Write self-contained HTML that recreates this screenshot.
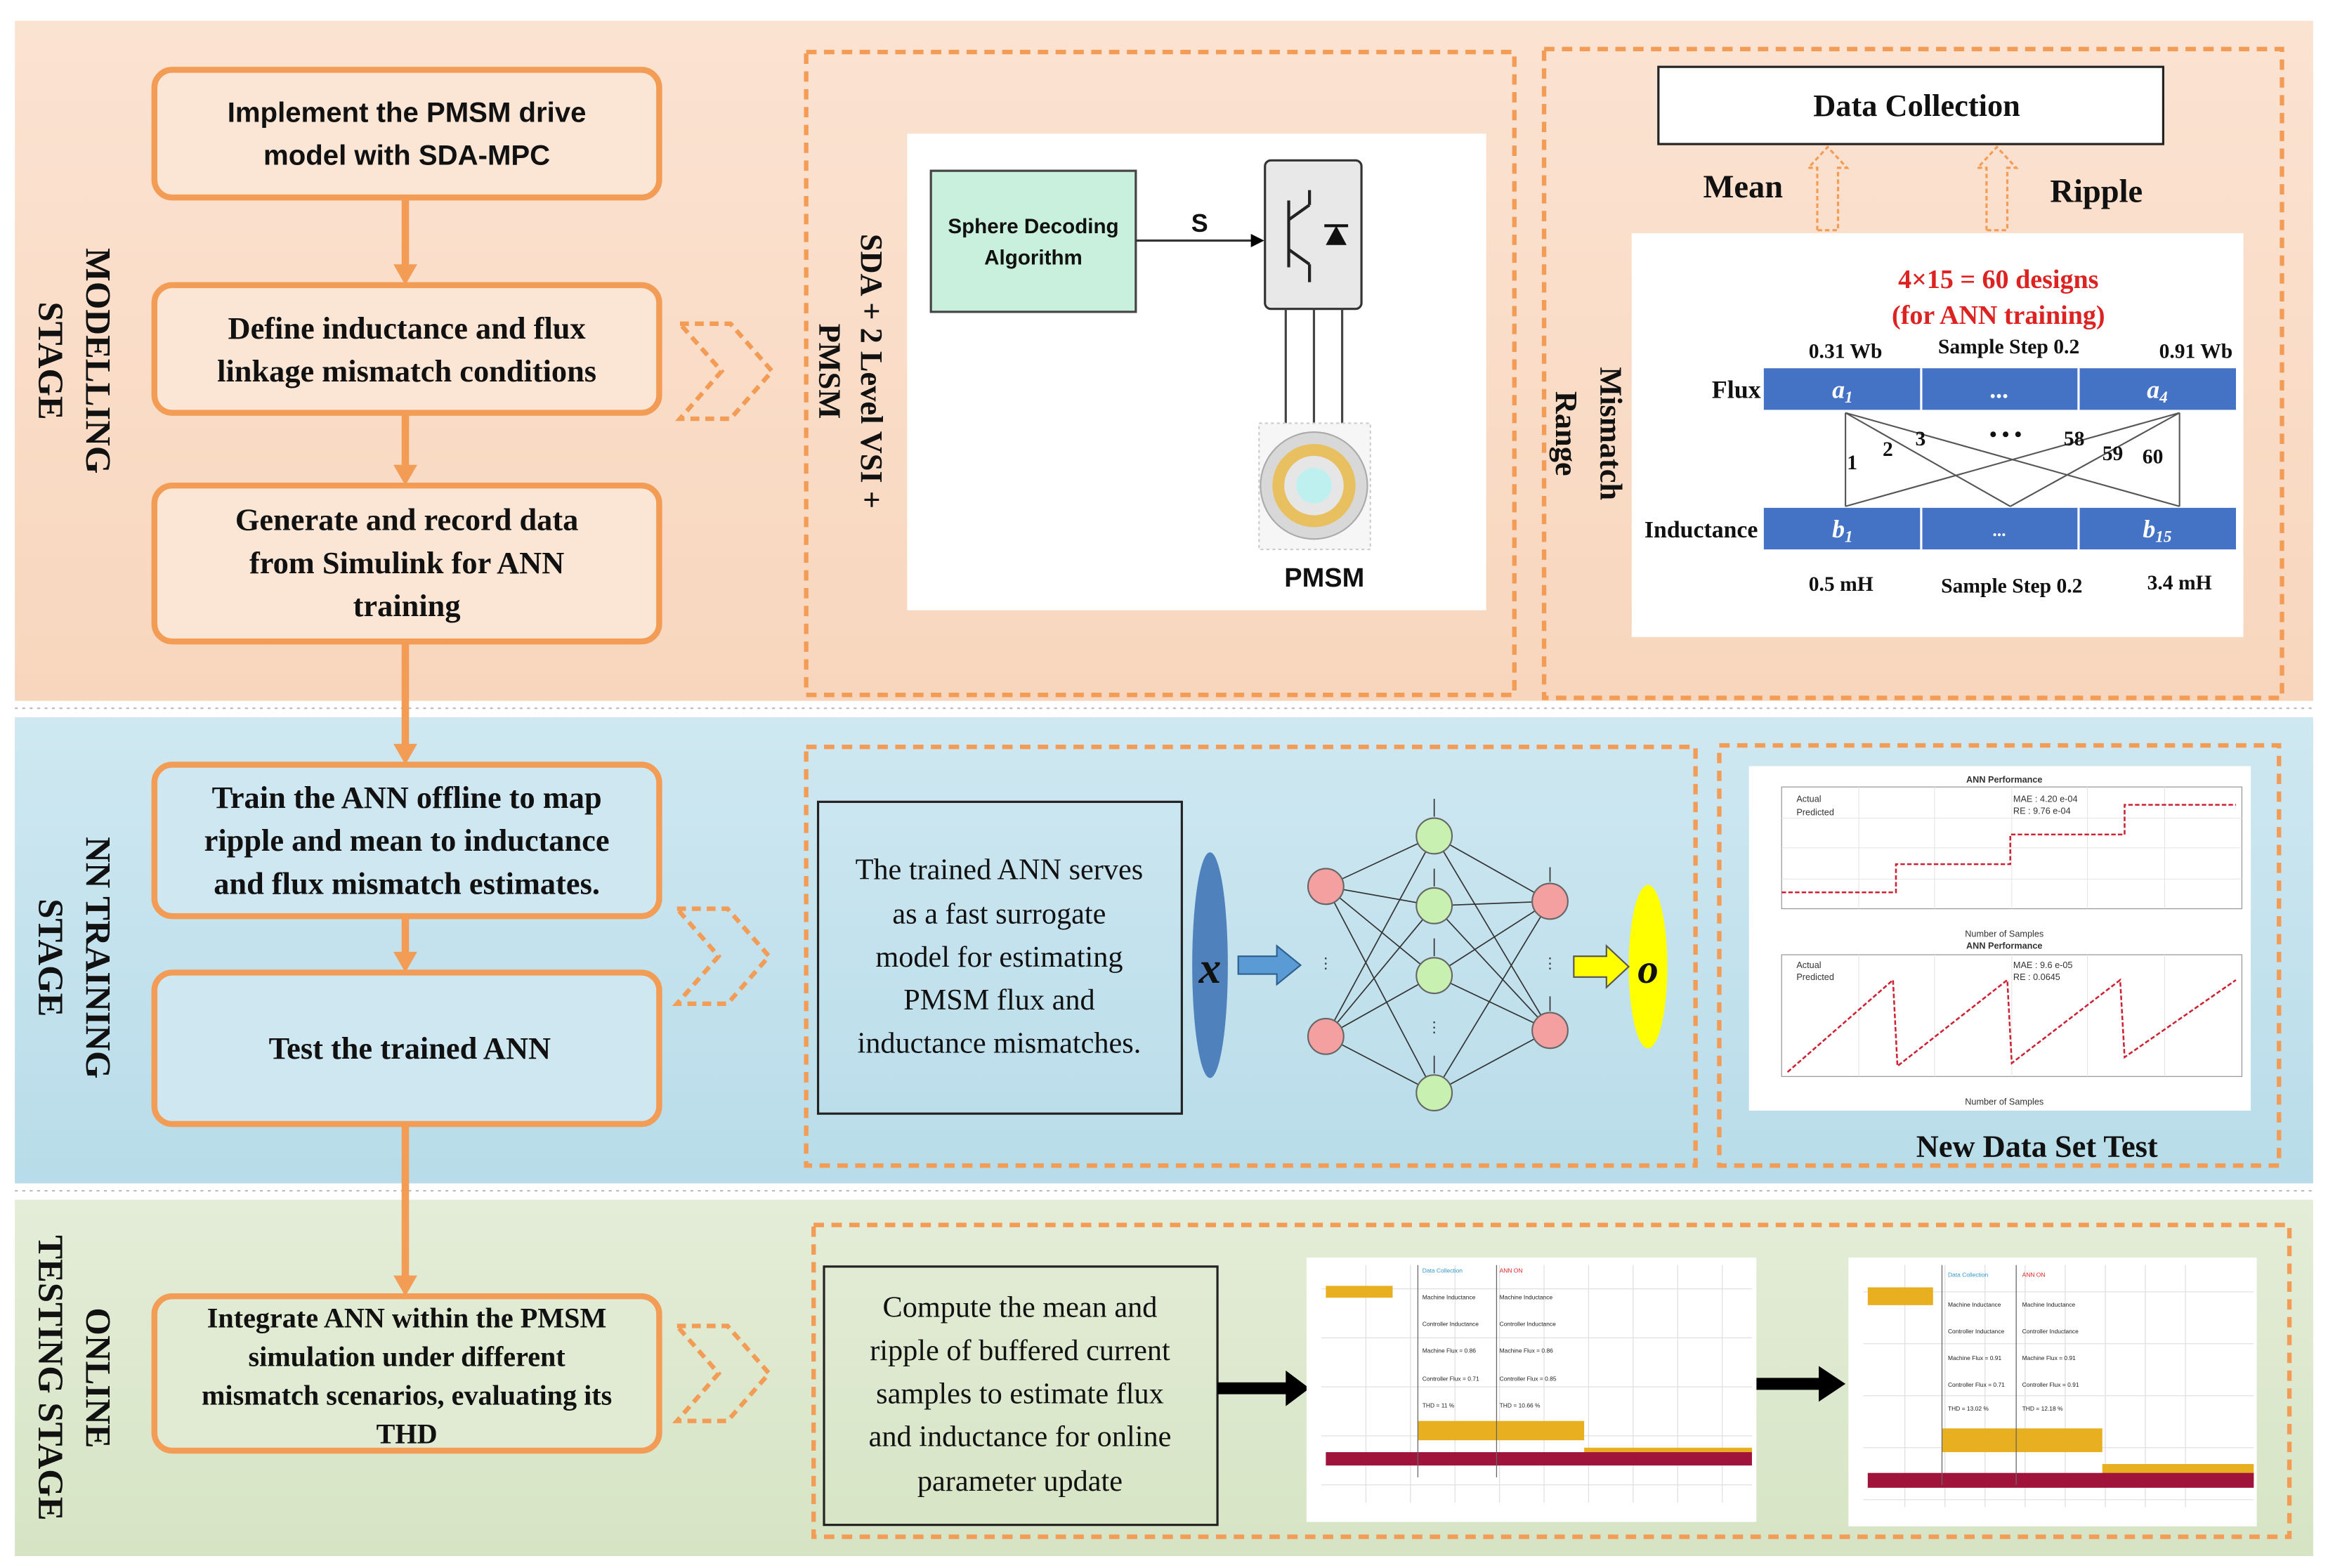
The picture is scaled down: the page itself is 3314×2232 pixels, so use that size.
<!DOCTYPE html>
<html><head><meta charset="utf-8"><style>
html,body{margin:0;padding:0;background:#fff;}
svg{display:block;}
</style></head><body>
<svg width="3314" height="2232" viewBox="0 0 1568 1056" xmlns="http://www.w3.org/2000/svg" font-family="Liberation Serif, serif">
<defs>
<linearGradient id="gp" x1="0" y1="0" x2="0" y2="1"><stop offset="0" stop-color="#fbe3d2"/><stop offset="1" stop-color="#f8d6bd"/></linearGradient>
<linearGradient id="gb" x1="0" y1="0" x2="0" y2="1"><stop offset="0" stop-color="#cfe8f1"/><stop offset="1" stop-color="#b8dce9"/></linearGradient>
<linearGradient id="gg" x1="0" y1="0" x2="0" y2="1"><stop offset="0" stop-color="#e4edd8"/><stop offset="1" stop-color="#d6e4c4"/></linearGradient>
<marker id="ah" markerWidth="6" markerHeight="6" refX="5" refY="3" orient="auto"><path d="M0,0 L6,3 L0,6z" fill="#000"/></marker>
</defs>
<rect width="1568" height="1056" fill="#fff"/>
<!-- bands -->
<rect x="10" y="14" width="1548" height="458" fill="url(#gp)"/>
<rect x="10" y="483" width="1548" height="314" fill="url(#gb)"/>
<rect x="10" y="808" width="1548" height="240" fill="url(#gg)"/>
<g stroke="#bbb" stroke-width="1"><line x1="10" y1="477" x2="1558" y2="477" stroke-dasharray="2 3"/><line x1="10" y1="802" x2="1558" y2="802" stroke-dasharray="2 3"/></g>

<!-- stage labels -->
<g font-weight="bold" font-size="24" fill="#111">
<text transform="translate(58,243) rotate(90)" text-anchor="middle">MODELLING</text>
<text transform="translate(26,243) rotate(90)" text-anchor="middle">STAGE</text>
<text transform="translate(58,645) rotate(90)" text-anchor="middle">NN TRAINING</text>
<text transform="translate(26,645) rotate(90)" text-anchor="middle">STAGE</text>
<text transform="translate(58,928) rotate(90)" text-anchor="middle">ONLINE</text>
<text transform="translate(26,928) rotate(90)" text-anchor="middle">TESTING STAGE</text>
</g>

<!-- vertical connectors -->
<g stroke="#f39c55" stroke-width="5" fill="#f39c55">
<line x1="273" y1="133" x2="273" y2="180"/><path d="M265,178 L281,178 L273,192z" stroke="none"/>
<line x1="273" y1="278" x2="273" y2="315"/><path d="M265,313 L281,313 L273,327z" stroke="none"/>
<line x1="273" y1="432" x2="273" y2="503"/><path d="M265,501 L281,501 L273,515z" stroke="none"/>
<line x1="273" y1="617" x2="273" y2="643"/><path d="M265,641 L281,641 L273,655z" stroke="none"/>
<line x1="273" y1="757" x2="273" y2="861"/><path d="M265,859 L281,859 L273,873z" stroke="none"/>
</g>

<!-- left boxes -->
<g stroke="#f39c55" stroke-width="4" fill="#fbe6d6">
<rect x="104" y="47" width="340" height="86" rx="12"/>
<rect x="104" y="192" width="340" height="86" rx="12"/>
<rect x="104" y="327" width="340" height="105" rx="12"/>
<rect x="104" y="515" width="340" height="102" rx="12" fill="#cfe7f1"/>
<rect x="104" y="655" width="340" height="102" rx="12" fill="#cfe7f1"/>
<rect x="104" y="873" width="340" height="104" rx="12" fill="#e1ebd3"/>
</g>
<g font-weight="bold" fill="#111" text-anchor="middle">
<text font-family="Liberation Sans, sans-serif" font-size="19" x="274" y="82">Implement the PMSM drive</text>
<text font-family="Liberation Sans, sans-serif" font-size="19" x="274" y="111">model with SDA-MPC</text>
<text font-size="21" x="274" y="228">Define inductance and flux</text>
<text font-size="21" x="274" y="257">linkage mismatch conditions</text>
<text font-size="21" x="274" y="357">Generate and record data</text>
<text font-size="21" x="274" y="386">from Simulink  for ANN</text>
<text font-size="21" x="274" y="415">training</text>
<text font-size="21" x="274" y="544">Train the ANN offline to map</text>
<text font-size="21" x="274" y="573">ripple and mean to inductance</text>
<text font-size="21" x="274" y="602">and flux mismatch estimates.</text>
<text font-size="21" x="276" y="713">Test the trained ANN</text>
<text font-size="19" x="274" y="894">Integrate ANN within the PMSM</text>
<text font-size="19" x="274" y="920">simulation under different</text>
<text font-size="19" x="274" y="946">mismatch scenarios, evaluating its</text>
<text font-size="19" x="274" y="972">THD</text>
</g>

<!-- chevrons -->
<g fill="none" stroke="#f39c55" stroke-width="3" stroke-dasharray="6 4">
<path d="M458,218 L492,218 L520,250 L492,282 L458,282 L486,250z"/>
<path d="M456,612 L490,612 L518,644 L490,676 L456,676 L484,644z"/>
<path d="M456,893 L490,893 L518,925 L490,957 L456,957 L484,925z"/>
</g>

<!-- dashed panels -->
<g fill="none" stroke="#f39c55" stroke-width="3" stroke-dasharray="7 5">
<rect x="543" y="35" width="477" height="433"/>
<rect x="1040" y="33" width="497" height="437"/>
<rect x="543" y="503" width="599" height="282"/>
<rect x="1158" y="502" width="377" height="283"/>
<rect x="548" y="825" width="994" height="210"/>
</g>

<!-- panel 1 -->
<g font-weight="bold" font-size="21" fill="#111">
<text transform="translate(580,250) rotate(90)" text-anchor="middle">SDA + 2 Level VSI +</text>
<text transform="translate(552,250) rotate(90)" text-anchor="middle">PMSM</text>
</g>
<rect x="611" y="90" width="390" height="321" fill="#fff"/>
<rect x="627" y="115" width="138" height="95" fill="#c8f0dc" stroke="#444" stroke-width="1.5"/>
<text x="696" y="157" font-family="Liberation Sans, sans-serif" font-size="14" font-weight="bold" text-anchor="middle" fill="#111">Sphere Decoding</text>
<text x="696" y="178" font-family="Liberation Sans, sans-serif" font-size="14" font-weight="bold" text-anchor="middle" fill="#111">Algorithm</text>
<line x1="765" y1="162" x2="850" y2="162" stroke="#333" stroke-width="1.5" marker-end="url(#ah)"/>
<text x="808" y="156" font-family="Liberation Sans, sans-serif" font-size="17" font-weight="bold" fill="#111" text-anchor="middle">S</text>
<rect x="852" y="108" width="65" height="100" rx="4" fill="#e8e8e8" stroke="#333" stroke-width="1.5"/>
<path d="M868,135 L868,180 M868,148 L882,138 M868,168 L882,178 M882,138 L882,128 M882,178 L882,190" stroke="#222" stroke-width="2" fill="none"/>
<path d="M893,165 L907,165 L900,152z" fill="#111"/><line x1="892" y1="152" x2="908" y2="152" stroke="#111" stroke-width="2"/>
<g stroke="#444" stroke-width="1.5"><line x1="866" y1="208" x2="866" y2="285"/><line x1="885" y1="208" x2="885" y2="285"/><line x1="904" y1="208" x2="904" y2="285"/></g>
<rect x="848" y="285" width="75" height="85" fill="#f6f6f6" stroke="#ccc" stroke-dasharray="2 2"/>
<circle cx="885" cy="327" r="36" fill="#d8d8d8" stroke="#aaa"/>
<circle cx="885" cy="327" r="28" fill="#e8c060"/>
<circle cx="885" cy="327" r="20" fill="#e6e6e6"/>
<circle cx="885" cy="327" r="12" fill="#bff0f0"/>
<text x="892" y="395" font-family="Liberation Sans, sans-serif" font-size="18" font-weight="bold" text-anchor="middle" fill="#111">PMSM</text>

<!-- panel 2 -->
<rect x="1117" y="45" width="340" height="52" fill="#fff" stroke="#222" stroke-width="1.5"/>
<text x="1291" y="78" font-weight="bold" font-size="21" text-anchor="middle" fill="#111">Data Collection</text>
<g fill="none" stroke="#f39c55" stroke-width="1.5" stroke-dasharray="3 2">
<path d="M1224,155 L1224,113 L1218,113 L1231,99 L1244,113 L1238,113 L1238,155z"/>
<path d="M1338,155 L1338,113 L1332,113 L1345,99 L1358,113 L1352,113 L1352,155z"/>
</g>
<text x="1174" y="133" font-weight="bold" font-size="22" text-anchor="middle" fill="#111">Mean</text>
<text x="1412" y="136" font-weight="bold" font-size="22" text-anchor="middle" fill="#111">Ripple</text>
<g font-weight="bold" font-size="21" fill="#111">
<text transform="translate(1078,292) rotate(90)" text-anchor="middle">Mismatch</text>
<text transform="translate(1048,292) rotate(90)" text-anchor="middle">Range</text>
</g>
<rect x="1099" y="157" width="412" height="272" fill="#fff"/>
<text x="1346" y="194" font-weight="bold" font-size="18" fill="#d22" text-anchor="middle">4×15 = 60 designs</text>
<text x="1346" y="218" font-weight="bold" font-size="18" fill="#d22" text-anchor="middle">(for ANN training)</text>
<g font-weight="bold" font-size="14" fill="#111" text-anchor="middle">
<text x="1243" y="241">0.31 Wb</text><text x="1353" y="238">Sample Step 0.2</text><text x="1479" y="241">0.91 Wb</text>
<text x="1240" y="398">0.5 mH</text><text x="1355" y="399">Sample Step 0.2</text><text x="1468" y="397">3.4 mH</text>
</g>
<rect x="1188" y="248" width="318" height="28" fill="#4472c4"/>
<rect x="1188" y="342" width="318" height="28" fill="#4472c4"/>
<g stroke="#fff" stroke-width="1.5"><line x1="1294" y1="248" x2="1294" y2="276"/><line x1="1400" y1="248" x2="1400" y2="276"/><line x1="1294" y1="342" x2="1294" y2="370"/><line x1="1400" y1="342" x2="1400" y2="370"/></g>
<g fill="#fff" font-style="italic" font-weight="bold" font-size="17" text-anchor="middle">
<text x="1241" y="268">a<tspan font-size="11" dy="3">1</tspan></text><text x="1347" y="268">...</text><text x="1453" y="268">a<tspan font-size="11" dy="3">4</tspan></text>
<text x="1241" y="362">b<tspan font-size="11" dy="3">1</tspan></text><text x="1347" y="361" font-size="12">...</text><text x="1453" y="362">b<tspan font-size="11" dy="3">15</tspan></text>
</g>
<text x="1186" y="268" font-weight="bold" font-size="17" text-anchor="end" fill="#111">Flux</text>
<text x="1184" y="362" font-weight="bold" font-size="16" text-anchor="end" fill="#111">Inductance</text>
<g stroke="#555" stroke-width="1"><line x1="1243" y1="278" x2="1243" y2="341"/><line x1="1243" y1="278" x2="1354" y2="341"/><line x1="1243" y1="278" x2="1468" y2="341"/><line x1="1468" y1="278" x2="1468" y2="341"/><line x1="1468" y1="278" x2="1354" y2="341"/><line x1="1468" y1="278" x2="1243" y2="341"/></g>
<g font-weight="bold" font-size="14" fill="#111"><text x="1244" y="316">1</text><text x="1268" y="307">2</text><text x="1290" y="300">3</text><text x="1340" y="297">• • •</text><text x="1390" y="300">58</text><text x="1416" y="310">59</text><text x="1443" y="312">60</text></g>

<!-- NN panel -->
<rect x="551" y="540" width="245" height="210" fill="none" stroke="#222" stroke-width="1.5"/>
<g font-size="20" fill="#111" text-anchor="middle">
<text x="673" y="592">The trained ANN serves</text><text x="673" y="622">as a fast surrogate</text><text x="673" y="651">model for estimating</text><text x="673" y="680">PMSM flux and</text><text x="673" y="709">inductance mismatches.</text>
</g>
<ellipse cx="815" cy="650" rx="12" ry="76" fill="#4f81bd"/>
<text x="815" y="662" font-style="italic" font-weight="bold" font-size="30" text-anchor="middle" fill="#111">x</text>
<path d="M834,644 L860,644 L860,637 L876,650 L860,663 L860,656 L834,656z" fill="#5b9bd5" stroke="#2e5f8f"/>
<ellipse cx="1110" cy="651" rx="13" ry="55" fill="#ffff00"/>
<text x="1110" y="662" font-style="italic" font-weight="bold" font-size="28" text-anchor="middle" fill="#111">o</text>
<path d="M1060,644 L1082,644 L1082,637 L1097,651 L1082,665 L1082,658 L1060,658z" fill="#ffff00" stroke="#555"/>
<g stroke="#333" stroke-width="0.8">
<path d="M893,597 L966,563 M893,597 L966,610 M893,597 L966,657 M893,597 L966,736 M893,698 L966,563 M893,698 L966,610 M893,698 L966,657 M893,698 L966,736 M966,563 L1044,607 M966,610 L1044,607 M966,657 L1044,607 M966,736 L1044,607 M966,563 L1044,694 M966,610 L1044,694 M966,657 L1044,694 M966,736 L1044,694 M966,538 L966,550 M966,585 L966,597 M966,632 L966,644 M966,711 L966,723 M1044,584 L1044,594 M1044,671 L1044,681"/>
</g>
<g stroke="#666"><circle cx="893" cy="597" r="12" fill="#f4a0a0"/><circle cx="893" cy="698" r="12" fill="#f4a0a0"/>
<circle cx="966" cy="563" r="12" fill="#c8f0b0"/><circle cx="966" cy="610" r="12" fill="#c8f0b0"/><circle cx="966" cy="657" r="12" fill="#c8f0b0"/><circle cx="966" cy="736" r="12" fill="#c8f0b0"/>
<circle cx="1044" cy="607" r="12" fill="#f4a0a0"/><circle cx="1044" cy="694" r="12" fill="#f4a0a0"/></g>
<g font-size="10" fill="#333" text-anchor="middle"><text x="893" y="652">⋮</text><text x="966" y="695">⋮</text><text x="1044" y="652">⋮</text></g>

<!-- ANN performance plots -->
<rect x="1178" y="516" width="338" height="232" fill="#fff"/>
<g font-family="Liberation Sans, sans-serif" font-size="6" fill="#333">
<text x="1350" y="527" text-anchor="middle" font-weight="bold">ANN Performance</text>
<rect x="1200" y="530" width="310" height="82" fill="none" stroke="#999" stroke-width="0.6"/>
<g stroke="#e4e4e4" stroke-width="0.5"><line x1="1252" y1="530" x2="1252" y2="612"/><line x1="1303" y1="530" x2="1303" y2="612"/><line x1="1355" y1="530" x2="1355" y2="612"/><line x1="1406" y1="530" x2="1406" y2="612"/><line x1="1458" y1="530" x2="1458" y2="612"/><line x1="1200" y1="551" x2="1510" y2="551"/><line x1="1200" y1="571" x2="1510" y2="571"/><line x1="1200" y1="592" x2="1510" y2="592"/></g>
<path d="M1200,601 L1277,601 L1277,582 L1354,582 L1354,562 L1431,562 L1431,542 L1506,542" fill="none" stroke="#c23" stroke-width="1.2" stroke-dasharray="3 1.5"/>
<text x="1350" y="631" text-anchor="middle">Number of Samples</text>
<text x="1350" y="639" text-anchor="middle" font-weight="bold">ANN Performance</text>
<rect x="1200" y="643" width="310" height="82" fill="none" stroke="#999" stroke-width="0.6"/>
<g stroke="#e4e4e4" stroke-width="0.5"><line x1="1252" y1="643" x2="1252" y2="725"/><line x1="1303" y1="643" x2="1303" y2="725"/><line x1="1355" y1="643" x2="1355" y2="725"/><line x1="1406" y1="643" x2="1406" y2="725"/><line x1="1458" y1="643" x2="1458" y2="725"/></g>
<path d="M1204,722 L1275,660 L1278,718 L1352,660 L1355,716 L1428,660 L1431,712 L1506,660" fill="none" stroke="#c23" stroke-width="1.2" stroke-dasharray="3 1.5"/>
<text x="1350" y="744" text-anchor="middle">Number of Samples</text>
<text x="1210" y="540">Actual</text><text x="1210" y="549">Predicted</text><text x="1210" y="652">Actual</text><text x="1210" y="660">Predicted</text>
<text x="1356" y="540">MAE : 4.20 e-04</text><text x="1356" y="548">RE : 9.76 e-04</text>
<text x="1356" y="652">MAE : 9.6 e-05</text><text x="1356" y="660">RE : 0.0645</text>
</g>
<text x="1372" y="779" font-weight="bold" font-size="21" text-anchor="middle" fill="#111">New Data Set Test</text>

<!-- testing panel -->
<rect x="555" y="853" width="265" height="174" fill="none" stroke="#222" stroke-width="1.5"/>
<g font-size="20" fill="#111" text-anchor="middle">
<text x="687" y="887">Compute the mean and</text><text x="687" y="916">ripple of buffered current</text><text x="687" y="945">samples to estimate flux</text><text x="687" y="974">and inductance for online</text><text x="687" y="1004">parameter update</text>
</g>
<path d="M820,931 L866,931 L866,923 L882,935 L866,947 L866,939 L820,939z" fill="#000"/>
<path d="M1183,928 L1225,928 L1225,920 L1243,932 L1225,944 L1225,936 L1183,936z" fill="#000"/>

<g id="p1">
<rect x="880" y="847" width="303" height="178" fill="#fff"/>
<g stroke="#e0e0e0" stroke-width="0.6"><line x1="890" y1="868" x2="1180" y2="868"/><line x1="890" y1="901" x2="1180" y2="901"/><line x1="890" y1="934" x2="1180" y2="934"/><line x1="890" y1="967" x2="1180" y2="967"/><line x1="890" y1="1000" x2="1180" y2="1000"/>
<line x1="920" y1="852" x2="920" y2="1012"/><line x1="950" y1="852" x2="950" y2="1012"/><line x1="980" y1="852" x2="980" y2="1012"/><line x1="1010" y1="852" x2="1010" y2="1012"/><line x1="1040" y1="852" x2="1040" y2="1012"/><line x1="1070" y1="852" x2="1070" y2="1012"/><line x1="1100" y1="852" x2="1100" y2="1012"/><line x1="1130" y1="852" x2="1130" y2="1012"/><line x1="1160" y1="852" x2="1160" y2="1012"/></g>
<rect x="893" y="866" width="45" height="8" fill="#e8b020"/>
<rect x="955" y="957" width="112" height="13" fill="#e8b020"/>
<rect x="1067" y="975" width="113" height="9" fill="#e8b020"/>
<rect x="893" y="978" width="287" height="9" fill="#a0143c"/>
<line x1="955" y1="852" x2="955" y2="995" stroke="#666" stroke-width="0.6"/><line x1="1008" y1="852" x2="1008" y2="995" stroke="#666" stroke-width="0.6"/>
<g font-family="Liberation Sans, sans-serif" font-size="4" fill="#222"><text x="958" y="857" fill="#39c">Data Collection</text><text x="1010" y="857" fill="#d22">ANN ON</text><text x="958" y="875">Machine Inductance</text><text x="1010" y="875">Machine Inductance</text><text x="958" y="893">Controller Inductance</text><text x="1010" y="893">Controller Inductance</text><text x="958" y="911">Machine Flux = 0.86</text><text x="1010" y="911">Machine Flux = 0.86</text><text x="958" y="930">Controller Flux = 0.71</text><text x="1010" y="930">Controller Flux = 0.85</text><text x="958" y="948">THD = 11 %</text><text x="1010" y="948">THD = 10.66 %</text></g>
</g>
<rect x="1245" y="847" width="275" height="181" fill="#fff"/>
<g stroke="#e0e0e0" stroke-width="0.6"><line x1="1255" y1="870" x2="1518" y2="870"/><line x1="1255" y1="905" x2="1518" y2="905"/><line x1="1255" y1="940" x2="1518" y2="940"/><line x1="1255" y1="975" x2="1518" y2="975"/><line x1="1255" y1="1010" x2="1518" y2="1010"/>
<line x1="1283" y1="852" x2="1283" y2="1015"/><line x1="1310" y1="852" x2="1310" y2="1015"/><line x1="1337" y1="852" x2="1337" y2="1015"/><line x1="1364" y1="852" x2="1364" y2="1015"/><line x1="1391" y1="852" x2="1391" y2="1015"/><line x1="1418" y1="852" x2="1418" y2="1015"/><line x1="1445" y1="852" x2="1445" y2="1015"/><line x1="1472" y1="852" x2="1472" y2="1015"/></g>
<rect x="1258" y="867" width="44" height="12" fill="#e8b020"/>
<rect x="1308" y="962" width="108" height="16" fill="#e8b020"/>
<rect x="1416" y="986" width="102" height="12" fill="#e8b020"/>
<rect x="1258" y="992" width="260" height="10" fill="#a0143c"/>
<line x1="1308" y1="852" x2="1308" y2="1000" stroke="#666" stroke-width="0.6"/><line x1="1358" y1="852" x2="1358" y2="1000" stroke="#666" stroke-width="0.6"/>
<g font-family="Liberation Sans, sans-serif" font-size="4" fill="#222"><text x="1312" y="860" fill="#39c">Data Collection</text><text x="1362" y="860" fill="#d22">ANN ON</text><text x="1312" y="880">Machine Inductance</text><text x="1362" y="880">Machine Inductance</text><text x="1312" y="898">Controller Inductance</text><text x="1362" y="898">Controller Inductance</text><text x="1312" y="916">Machine Flux = 0.91</text><text x="1362" y="916">Machine Flux = 0.91</text><text x="1312" y="934">Controller Flux = 0.71</text><text x="1362" y="934">Controller Flux = 0.91</text><text x="1312" y="950">THD = 13.02 %</text><text x="1362" y="950">THD = 12.18 %</text></g>
</svg>
</body></html>
